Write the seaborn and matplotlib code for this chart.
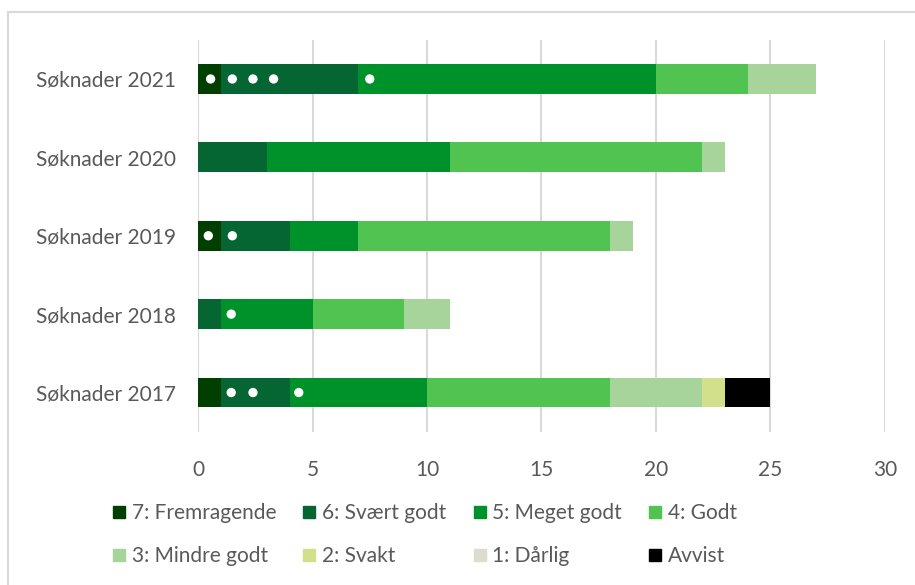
import seaborn as sns
import pandas as pd
import matplotlib.pyplot as plt
from matplotlib.patches import Rectangle
from matplotlib.lines import Line2D

# Data
aar = ["Søknader 2021", "Søknader 2020", "Søknader 2019", "Søknader 2018", "Søknader 2017"]
karakterer = ["7: Fremragende", "6: Svært godt", "5: Meget godt", "4: Godt",
              "3: Mindre godt", "2: Svakt", "1: Dårlig", "Avvist"]
fremragende = [1, 0, 1, 0, 1]
svaert_godt = [6, 3, 3, 1, 3]
meget_godt = [13, 8, 3, 4, 6]
godt = [4, 11, 11, 4, 8]
mindre_godt = [3, 1, 1, 2, 4]
svakt = [0, 0, 0, 0, 1]
daarlig = [0, 0, 0, 0, 0]
avvist = [0, 0, 0, 0, 2]
farger = ["#003f00", "#056634", "#00922a", "#50c350",
          "#a6d49b", "#d2e08c", "#dedbcf", "#000000"]

# hvite prikker
prikk_aar = ["Søknader 2021"] * 5 + ["Søknader 2019"] * 2 + ["Søknader 2018"] + ["Søknader 2017"] * 3
prikk_x = [0.55, 1.5, 2.4, 3.3, 7.5, 0.45, 1.5, 1.45, 1.45, 2.4, 4.4]

df = pd.DataFrame({"aar": aar})
serier = [fremragende, svaert_godt, meget_godt, godt, mindre_godt, svakt, daarlig, avvist]
kum = [0] * len(aar)
for navn, s in zip(karakterer, serier):
    kum = [a + b for a, b in zip(kum, s)]
    df[navn] = kum

plt.rcParams["font.family"] = ["Lato", "DejaVu Sans"]
fig = plt.figure(figsize=(9.15, 5.85), dpi=100)
ax = fig.add_axes([0.2164, 0.262, 0.7508, 0.670])

# tegn kumulative summer bakfra slik at de stables
for navn, farge in reversed(list(zip(karakterer, farger))):
    sns.barplot(data=df, x=navn, y="aar", color=farge, width=0.38,
                orient="h", ax=ax, saturation=1, zorder=3)

prikk_y = [aar.index(a) for a in prikk_aar]
sns.scatterplot(x=prikk_x, y=prikk_y, color="white", s=45, edgecolor="none",
                zorder=5, ax=ax, legend=False)

ax.set_xlim(0, 30)
ax.set_ylim(4.5, -0.5)
ax.set_xticks(range(0, 31, 5))
ax.grid(axis="x", color="#d9d9d9", lw=1.5, zorder=0)
ax.set_axisbelow(True)
for sp in ax.spines.values():
    sp.set_visible(False)
ax.tick_params(length=0, labelsize=15, labelcolor="#595959")
ax.tick_params(axis="y", pad=16)
ax.tick_params(axis="x", pad=20)
ax.set_xlabel("")
ax.set_ylabel("")

# legenden fylles kolonnevis, så rekkefølgen stokkes til radvis
rekkefolge = [0, 4, 1, 5, 2, 6, 3, 7]
handles = [Line2D([], [], marker="s", ls="", color=farger[i], markersize=8) for i in rekkefolge]
labels = [karakterer[i] for i in rekkefolge]
fig.legend(handles, labels, ncol=4, loc="center", bbox_to_anchor=(0.462, 0.086),
           frameon=False, fontsize=15, labelcolor="#595959", handletextpad=0.1,
           columnspacing=1.1, labelspacing=1.1, handlelength=1.0)

fig.patches.append(Rectangle((8 / 915, -0.1), 1.0, 1 - 12 / 585 + 0.1,
                             transform=fig.transFigure, fill=False,
                             edgecolor="#d9d9d9", lw=1.5))

fig.savefig("out.png", dpi=100)
